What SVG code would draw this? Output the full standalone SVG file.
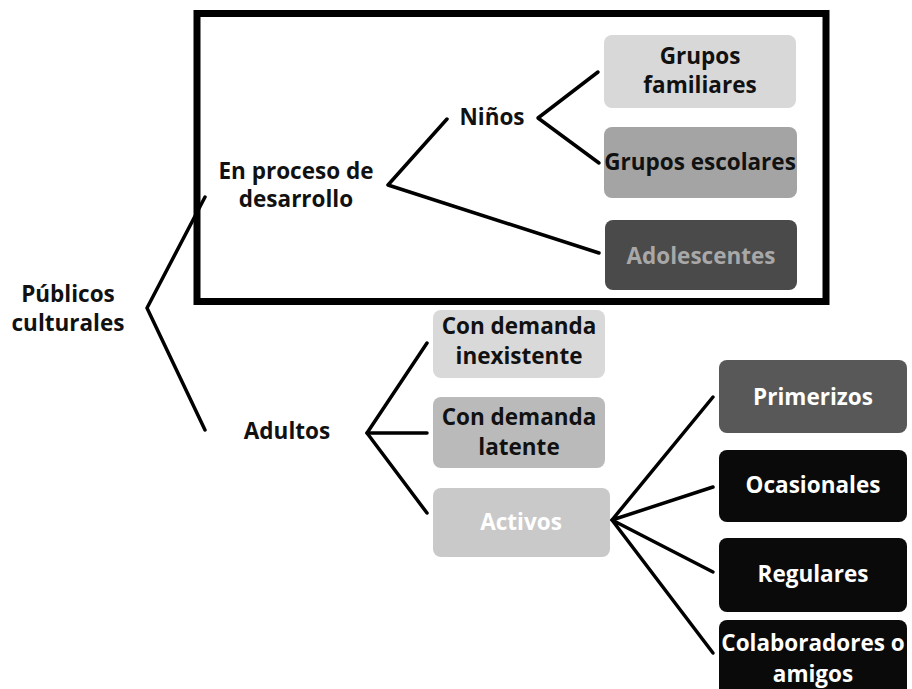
<svg xmlns="http://www.w3.org/2000/svg" width="912" height="689" viewBox="0 0 912 689">
<style>
text{font-family:"Open Sans","Noto Sans","Liberation Sans",sans-serif;font-weight:bold;font-size:22.5px;text-anchor:middle;fill:#111}
.w{fill:#fff}
.g{fill:#a8a8a8}
.ln{stroke:#000;stroke-width:3.5;fill:none;stroke-linecap:round;stroke-linejoin:round}
.box{rx:8;ry:8}
</style>
<rect width="912" height="689" fill="#fff"/>
<rect x="197" y="13.5" width="629" height="288" fill="none" stroke="#000" stroke-width="7"/>
<g id="connectors" class="ln">
<polyline points="205,197 147,308 205,430"/>
<polyline points="447,119 388,185 599,253"/>
<polyline points="598,72 538,118 599,163"/>
<polyline points="427,343 367,433 427,513"/>
<line x1="367" y1="433" x2="427" y2="433"/>
<polyline points="713,397 612,520 713,487"/>
<polyline points="713,572 612,520 713,653"/>
</g>
<g id="publicos"><text x="68" y="302">Públicos</text><text x="68" y="331">culturales</text></g>
<g id="en-proceso"><text x="296" y="179">En proceso de</text><text x="296" y="207">desarrollo</text></g>
<g id="ninos"><text x="492" y="125">Niños</text></g>
<g id="adultos"><text x="287" y="439">Adultos</text></g>
<g id="grupos-familiares"><rect class="box" x="604" y="35" width="192" height="73" fill="#d8d8d8"/><text x="700" y="64">Grupos</text><text x="700" y="93">familiares</text></g>
<g id="grupos-escolares"><rect class="box" x="604" y="127" width="193" height="71" fill="#a4a4a4"/><text x="700" y="170">Grupos escolares</text></g>
<g id="adolescentes"><rect class="box" x="605" y="220" width="192" height="70" fill="#4a4a4a"/><text class="g" x="701" y="264">Adolescentes</text></g>
<g id="con-demanda-inexistente"><rect class="box" x="433" y="310" width="172" height="68" fill="#d9d9d9"/><text x="519" y="334">Con demanda</text><text x="519" y="364">inexistente</text></g>
<g id="con-demanda-latente"><rect class="box" x="433" y="397" width="172" height="71" fill="#bababa"/><text x="519" y="425">Con demanda</text><text x="519" y="455">latente</text></g>
<g id="activos"><rect class="box" x="433" y="488" width="177" height="69" fill="#c9c9c9"/><text class="w" x="521" y="530">Activos</text></g>
<g id="primerizos"><rect class="box" x="719" y="360" width="188" height="73" fill="#585858"/><text class="w" x="813" y="405">Primerizos</text></g>
<g id="ocasionales"><rect class="box" x="719" y="450" width="188" height="72" fill="#0a0a0a"/><text class="w" x="813" y="493">Ocasionales</text></g>
<g id="regulares"><rect class="box" x="719" y="538" width="188" height="74" fill="#0a0a0a"/><text class="w" x="813" y="582">Regulares</text></g>
<g id="colaboradores"><rect class="box" x="719" y="620" width="188" height="80" fill="#0a0a0a"/><text class="w" x="813" y="651">Colaboradores o</text><text class="w" x="813" y="682" font-size="21.5">amigos</text></g>
</svg>
